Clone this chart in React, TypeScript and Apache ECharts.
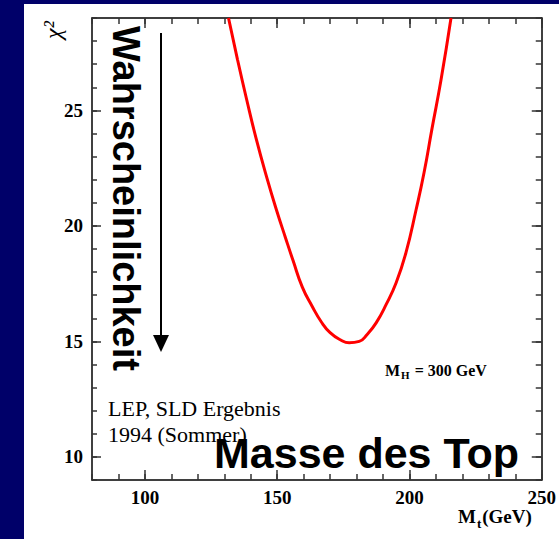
import { useEffect, useRef } from 'react';
import * as echarts from 'echarts';

// Curve: top-quark mass (GeV) vs chi^2
const topMass = [131.6, 135, 138.5, 142, 146.3, 149.7, 153.1, 156, 159.5, 163.3, 166.7, 170, 174, 177.2, 181, 184, 187.4, 191.2, 195, 198.7, 202.5, 205.5, 208.5, 211.9, 215.7];
const chi2 = [29.0, 27.2, 25.45, 23.8, 22.0, 20.7, 19.5, 18.5, 17.35, 16.5, 15.84, 15.38, 15.06, 14.94, 15.0, 15.3, 15.8, 16.6, 17.55, 18.85, 20.7, 22.3, 24.2, 26.3, 29.0];

const xMin = 80;
const xMax = 250;
const yMin = 9;
const yMax = 29;
const xMajorTicks = [100, 150, 200, 250];
const yMajorTicks = [10, 15, 20, 25];

const serif = "'Liberation Serif', 'Times New Roman', serif";
const sans = "'Liberation Sans', Arial, sans-serif";

export default function App() {
  const ref = useRef<HTMLDivElement>(null);

  useEffect(() => {
    if (!ref.current) return;
    const chart = echarts.init(ref.current, undefined, { renderer: 'svg' });

    const axisLine = { show: true, onZero: false, lineStyle: { color: '#000', width: 1.5 } };
    const tickStyle = { color: '#333', width: 1.5 };
    const labelStyle = { color: '#000', fontFamily: serif, fontWeight: 'bold' as const, fontSize: 19 };

    const xBase = { type: 'value' as const, min: xMin, max: xMax, splitLine: { show: false } };
    const yBase = { type: 'value' as const, min: yMin, max: yMax, splitLine: { show: false } };

    chart.setOption({
      animation: false,
      backgroundColor: '#000069',
      grid: { left: 92, top: 18, right: 16, bottom: 59, containLabel: false },
      xAxis: [
        {
          ...xBase, position: 'bottom', interval: 10,
          axisLine,
          axisTick: { show: true, inside: true, length: 6, lineStyle: tickStyle },
          axisLabel: {
            ...labelStyle, margin: 8, showMaxLabel: true, showMinLabel: true,
            formatter: (v: number) => (xMajorTicks.includes(v) ? String(v) : ''),
          },
        },
        {
          ...xBase, position: 'bottom',
          axisLine: { show: false },
          axisTick: { show: true, inside: true, length: 10, customValues: xMajorTicks, lineStyle: tickStyle },
          axisLabel: { show: false },
        },
        {
          ...xBase, position: 'top', interval: 10,
          axisLine,
          axisTick: { show: true, inside: true, length: 6, lineStyle: tickStyle },
          axisLabel: { show: false },
        },
        {
          ...xBase, position: 'top',
          axisLine: { show: false },
          axisTick: { show: true, inside: true, length: 10, customValues: xMajorTicks, lineStyle: tickStyle },
          axisLabel: { show: false },
        },
      ],
      yAxis: [
        {
          ...yBase, position: 'left', interval: 1,
          axisLine,
          axisTick: { show: true, inside: true, length: 5, lineStyle: tickStyle },
          axisLabel: {
            ...labelStyle, margin: 9, showMaxLabel: true, showMinLabel: true,
            formatter: (v: number) => (yMajorTicks.includes(v) ? String(v) : ''),
          },
        },
        {
          ...yBase, position: 'left',
          axisLine: { show: false },
          axisTick: { show: true, inside: true, length: 9, customValues: yMajorTicks, lineStyle: tickStyle },
          axisLabel: { show: false },
        },
        {
          ...yBase, position: 'right', interval: 1,
          axisLine,
          axisTick: { show: true, inside: true, length: 6, lineStyle: tickStyle },
          axisLabel: { show: false },
        },
        {
          ...yBase, position: 'right',
          axisLine: { show: false },
          axisTick: { show: true, inside: true, length: 10, customValues: yMajorTicks, lineStyle: tickStyle },
          axisLabel: { show: false },
        },
      ],
      series: [
        {
          type: 'line',
          xAxisIndex: 0,
          yAxisIndex: 0,
          data: topMass.map((m, i) => [m, chi2[i]]),
          showSymbol: false,
          smooth: 0.5,
          clip: true,
          lineStyle: { color: '#ff0000', width: 3 },
          z: 5,
        },
      ],
      graphic: [
        {
          type: 'rect', z: -10, silent: true,
          shape: { x: 24, y: 4, width: 535, height: 535 },
          style: { fill: '#ffffff' },
        },
        {
          type: 'text', z: 20, x: 53, y: 30, rotation: Math.PI / 2,
          style: { text: 'χ²', font: `italic 24px ${serif}`, fill: '#000', align: 'center', verticalAlign: 'middle' },
        },
        {
          type: 'text', z: 20, x: 126, y: 198.5, rotation: -Math.PI / 2,
          style: { text: 'Wahrscheinlichkeit', font: `bold 38px ${sans}`, fill: '#000', align: 'center', verticalAlign: 'middle' },
        },
        {
          type: 'line', z: 20,
          shape: { x1: 161, y1: 33, x2: 161, y2: 340 },
          style: { stroke: '#000', lineWidth: 2 },
        },
        {
          type: 'polygon', z: 20,
          shape: { points: [[153, 335], [169, 335], [161, 352]] },
          style: { fill: '#000' },
        },
        {
          type: 'text', z: 20, x: 108, y: 408,
          style: { text: 'LEP, SLD Ergebnis', font: `22px ${serif}`, fill: '#000', align: 'left', verticalAlign: 'middle' },
        },
        {
          type: 'text', z: 20, x: 108, y: 434,
          style: { text: '1994 (Sommer)', font: `22px ${serif}`, fill: '#000', align: 'left', verticalAlign: 'middle' },
        },
        {
          type: 'text', z: 21, x: 214, y: 453,
          style: { text: 'Masse des Top', font: `bold 43px ${sans}`, fill: '#000', align: 'left', verticalAlign: 'middle' },
        },
        {
          type: 'text', z: 20, x: 385, y: 370,
          style: {
            text: '{m|M}{s|H}{m| = 300 GeV}',
            align: 'left', verticalAlign: 'middle',
            rich: {
              m: { font: `bold 16px ${serif}`, fill: '#000' },
              s: { font: `bold 11px ${serif}`, fill: '#000', padding: [9, 1, 0, 1] },
            },
          },
        },
        {
          type: 'text', z: 20, x: 458, y: 516,
          style: {
            text: '{m|M}{s|t}{m|(GeV)}',
            align: 'left', verticalAlign: 'middle',
            rich: {
              m: { font: `bold 19px ${serif}`, fill: '#000' },
              s: { font: `bold 13px ${serif}`, fill: '#000', padding: [14, 1, 0, 1] },
            },
          },
        },
      ],
    });

    return () => chart.dispose();
  }, []);

  return (
    <div
      ref={ref}
      style={{ position: 'absolute', left: 0, top: 0, width: 559, height: 539 }}
    />
  );
}
